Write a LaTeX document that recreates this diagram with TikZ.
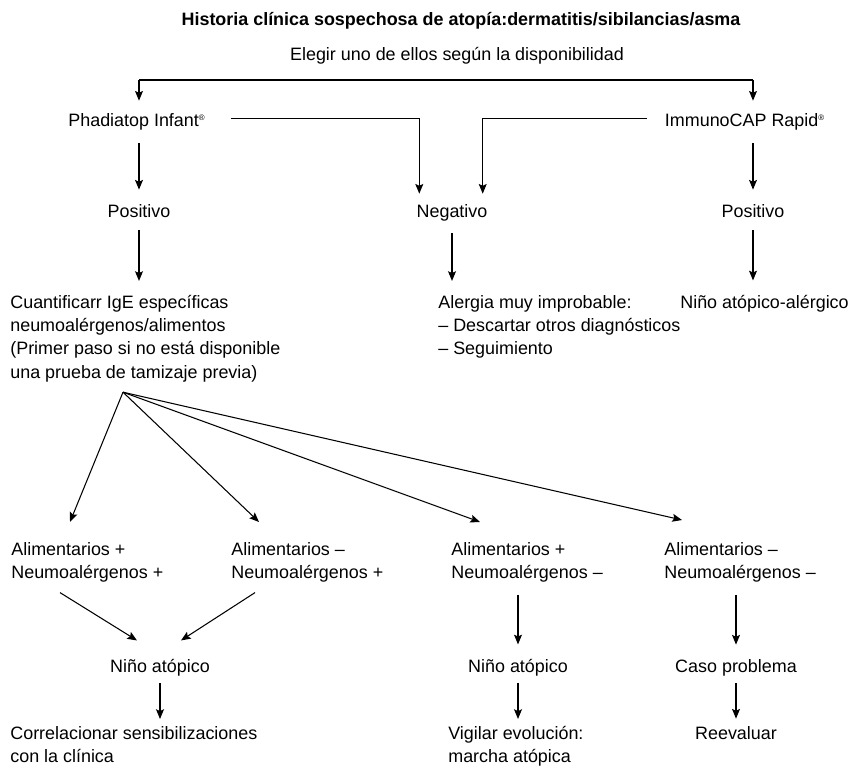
\documentclass[tikz,border=0pt]{standalone}
\usepackage{fontspec}
\setmainfont{Liberation Sans}
\usetikzlibrary{arrows.meta, positioning, calc}
\newcommand{\reg}{\textsuperscript{\fontsize{4.5}{5}\selectfont ®}}

\begin{document}
\begin{tikzpicture}[x=0.02cm, y=-0.02cm,
  txt/.style={inner sep=0pt, font=\fontsize{10.2}{13.2}\selectfont},
  blk/.style={txt, align=left, anchor=north west},
  head/.style={txt, font=\fontsize{10.2}{13.2}\selectfont\bfseries},
  arrow/.style={-{Stealth[length=5.5pt, width=4.5pt, inset=1pt]}, line width=0.6pt},
  link/.style={arrow, shorten <=7pt, shorten >=8pt},
  shortlink/.style={arrow, shorten <=4pt, shorten >=4pt}]
\useasboundingbox (0,0) rectangle (862,767);

% top
\node[head, anchor=base] (hist)   at (461,26)  {Historia clínica sospechosa de atopía:dermatitis/sibilancias/asma};
\node[txt, anchor=base]  (elegir) at (457,61)  {Elegir uno de ellos según la disponibilidad};
\node[txt, anchor=base]  (phad)   at (137,127) {Phadiatop Infant\reg};
\node[txt, anchor=base]  (immuno) at (745,127) {ImmunoCAP Rapid\reg};

\node[txt, anchor=base]  (pos1) at (139,217) {Positivo};
\node[txt, anchor=base]  (neg)  at (452,217) {Negativo};
\node[txt, anchor=base]  (pos2) at (753,217) {Positivo};

\node[blk] (cuant)   at (10,295)  {Cuantificarr IgE específicas\\neumoalérgenos/alimentos\\(Primer paso si no está disponible\\una prueba de tamizaje previa)};
\node[blk] (alergia) at (438,295) {Alergia muy improbable:\\– Descartar otros diagnósticos\\– Seguimiento};
\node[txt, anchor=base west] (atopalerg) at (680,308) {Niño atópico-alérgico};

% second level
\node[blk] (r1) at (11,542)  {Alimentarios +\\Neumoalérgenos +};
\node[blk] (r2) at (231,542) {Alimentarios –\\Neumoalérgenos +};
\node[blk] (r3) at (451,542) {Alimentarios +\\Neumoalérgenos –};
\node[blk] (r4) at (664,542) {Alimentarios –\\Neumoalérgenos –};

\node[txt, anchor=base] (nino1) at (160,672) {Niño atópico};
\node[txt, anchor=base] (nino2) at (518,672) {Niño atópico};
\node[txt, anchor=base] (caso)  at (736,672) {Caso problema};

\node[blk] (correl)  at (10,726)  {Correlacionar sensibilizaciones\\con la clínica};
\node[blk] (vigilar) at (448,726) {Vigilar evolución:\\marcha atópica};
\node[txt, anchor=base] (reev) at (736,739) {Reevaluar};

% connectors
\coordinate (splitL) at (139,80);
\coordinate (splitR) at (753,80);
\draw[line width=0.6pt] (splitL) -- (splitR);
\draw[arrow] (splitL) -- ($(splitL |- phad.north)+(0,-13)$);
\draw[arrow] (splitR) -- ($(splitR |- immuno.north)+(0,-13)$);
\draw[arrow] ($(phad.east)+(25,-4)$) -| ($(neg.north west)+(3,-10)$);
\draw[arrow] ($(immuno.west)+(-18,-4)$) -| ($(neg.north east)+(-5,-10)$);

\draw[link] (phad.south -| pos1) -- (pos1);
\draw[link] (splitR |- immuno.south) -- (splitR |- pos2.north);
\draw[link] (pos1) -- (pos1 |- cuant.north);
\draw[link] (neg) -- (neg |- alergia.north);
\draw[link] (pos2) -- (pos2 |- atopalerg.north);

\coordinate (fan) at ($(cuant.south west)+(113,10)$);
\draw[arrow] (fan) -- ($(r1.north west)+(59,-20)$);
\draw[arrow] (fan) -- ($(r2.north west)+(28,-20)$);
\draw[arrow] (fan) -- ($(r3.north west)+(29,-20)$);
\draw[arrow] (fan) -- ($(r4.north west)+(18,-22)$);

\draw[arrow] ($(r1.south west)+(49,10)$) -- ($(nino1.north)+(-23,-18)$);
\draw[arrow] ($(r2.south west)+(24,10)$) -- ($(nino1.north)+(21,-18)$);
\draw[link] (nino2.north |- r3.south) -- (nino2);
\draw[link] (caso.north |- r4.south) -- (caso);

\draw[shortlink] (nino1) -- (nino1 |- correl.north);
\draw[shortlink] (nino2) -- (nino2 |- vigilar.north);
\draw[shortlink] (caso) -- (reev);
\end{tikzpicture}
\end{document}
